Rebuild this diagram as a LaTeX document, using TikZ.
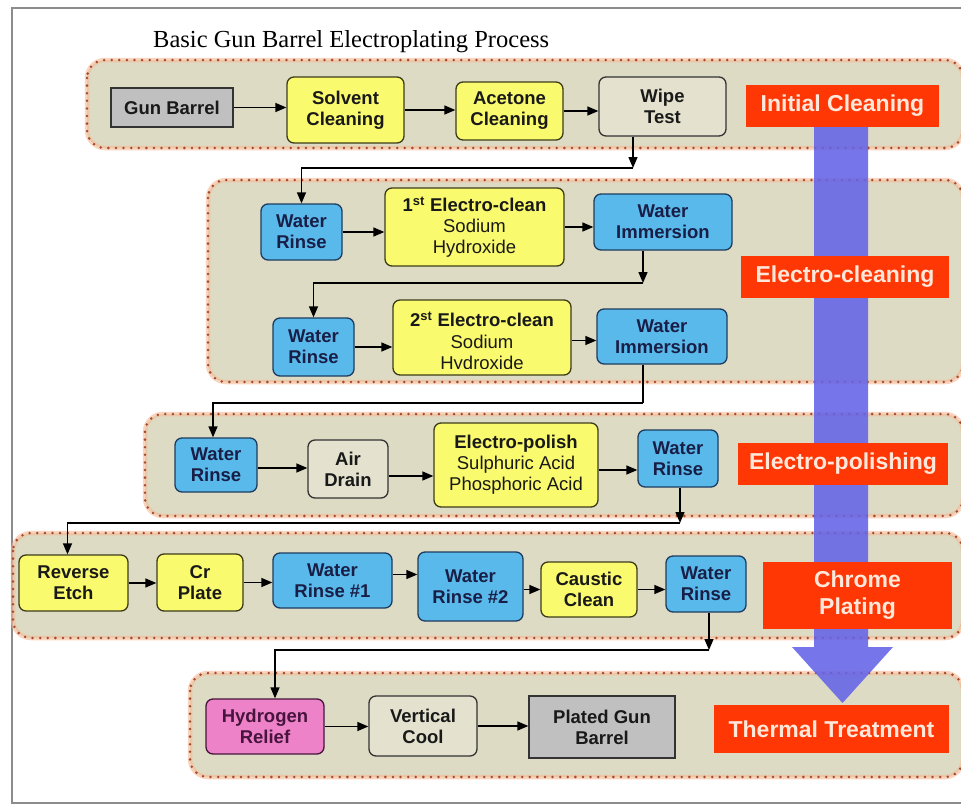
\documentclass[tikz,border=0pt]{standalone}
\usepackage{fontspec}
\setmainfont{Liberation Serif}
\newfontfamily\arialf{Liberation Sans}
\usetikzlibrary{arrows.meta}
\definecolor{grpfill}{RGB}{221,219,196}
\definecolor{grpdot}{RGB}{165,75,45}
\definecolor{grpglow}{RGB}{245,185,150}
\definecolor{yel}{RGB}{250,250,110}
\definecolor{yeldark}{RGB}{60,60,25}
\definecolor{blu}{RGB}{90,185,235}
\definecolor{bludark}{RGB}{30,60,95}
\definecolor{navy}{RGB}{25,30,70}
\definecolor{gry}{RGB}{192,192,192}
\definecolor{pnk}{RGB}{238,130,200}
\definecolor{pnktxt}{RGB}{70,20,60}
\definecolor{bge}{RGB}{228,226,206}
\definecolor{redl}{RGB}{255,55,5}
\definecolor{redtxt}{RGB}{255,232,218}
\definecolor{arrowblue}{RGB}{100,100,232}
\tikzset{
  box/.style={draw=black!80, line width=1.3pt, rounded corners=7pt, align=center, inner sep=2pt,
    font=\arialf\fontsize{18.5}{21}\selectfont\bfseries, text=black!90},
  ybox/.style={box, fill=yel, draw=yeldark},
  bbox/.style={box, fill=blu, draw=bludark, text=navy},
  gbox/.style={box, fill=gry, rounded corners=0pt},
  ebox/.style={box, fill=bge},
  pbox/.style={box, fill=pnk, draw=pnktxt, text=pnktxt},
  lab/.style={fill=redl, text=redtxt, font=\arialf\fontsize{23}{27}\selectfont\bfseries, align=center, inner sep=0pt},
  conn/.style={draw=black, line width=1.4pt, -{Triangle[length=11pt,width=9pt]}},
  plain/.style={draw=black, line width=1.4pt},
  glowline/.style={draw=grpglow, opacity=0.6, line width=4.5pt, rounded corners=18pt},
  dotline/.style={draw=grpdot, line width=2.8pt, line cap=round, dash pattern=on 0pt off 7.6pt, rounded corners=18pt}
}
\newcommand\grpbox[4]{%
  \fill[grpfill, rounded corners=18pt] (#1,#2) rectangle (#3,#4);
  \draw[glowline] (#1,#2) rectangle (#3,#4);
  \draw[dotline] (#1,#2) rectangle (#3,#4);}
\begin{document}
\begin{tikzpicture}[x=1pt, y=-1pt]
\useasboundingbox (0,0) rectangle (961,806);
\fill[white] (0,0) rectangle (961,806);
% frame
\draw[black!45, line width=1.2pt] (961,8) -- (12,8) -- (12,803) -- (961,803);
% title
\node[anchor=base west, font=\fontsize{24.5}{28}\selectfont, inner sep=0pt] (title) at (153,47) {Basic Gun Barrel Electroplating Process};
% groups
\grpbox{87}{60}{963}{148}
\grpbox{208}{180}{963}{382}
\grpbox{145}{414}{963}{516}
\grpbox{13}{533}{963}{638}
\grpbox{190}{673}{963}{777}
% big arrow
\fill[arrowblue, opacity=0.88] (814,120) -- (868,120) -- (868,647) -- (893,647) -- (842.5,703) -- (792,647) -- (814,647) -- cycle;
% labels
\node[lab, minimum width=193pt, minimum height=42pt] (lab1) at (842.5,106) {Initial Cleaning};
\node[lab, minimum width=208pt, minimum height=42pt] (lab2) at (845,277) {Electro-cleaning};
\node[lab, minimum width=210pt, minimum height=42pt] (lab3) at (843,464) {Electro-polishing};
\node[lab, minimum width=189pt, minimum height=67pt] (lab4) at (857.5,595.5) {Chrome\\Plating};
\node[lab, minimum width=235pt, minimum height=48pt] (lab5) at (831.5,729) {Thermal Treatment};
% row 1
\node[gbox, minimum width=122pt, minimum height=39pt] (gb) at (172,107.5) {Gun Barrel};
\node[ybox, minimum width=117pt, minimum height=66pt] (sol) at (345.5,110) {Solvent\\Cleaning};
\node[ybox, minimum width=107pt, minimum height=58pt] (ace) at (509.5,111) {Acetone\\Cleaning};
\node[ebox, minimum width=127pt, minimum height=59pt] (wipe) at (662.5,106.5) {Wipe\\Test};
% row 2
\node[bbox, minimum width=81pt, minimum height=56pt] (wr1) at (301.5,232) {Water\\Rinse};
\node[ybox, minimum width=179pt, minimum height=78pt] (ec1) at (474.5,227) {1\textsuperscript{st} Electro-clean\\\mdseries Sodium\\\mdseries Hydroxide};
\node[bbox, minimum width=138pt, minimum height=56pt] (wi1) at (663,222) {Water\\Immersion};
\node[bbox, minimum width=81pt, minimum height=58pt] (wr2) at (313.5,347) {Water\\Rinse};
\node[ybox, minimum width=178pt, minimum height=75pt] (ec2) at (482,337.5) {};
\begin{scope}
  \clip (393,300) rectangle (571,368);
  \node[font=\arialf\fontsize{18.5}{21.5}\selectfont\bfseries, text=black!90, align=center, inner sep=0pt] (ec2t) at (482,343) {2\textsuperscript{st} Electro-clean\\\mdseries Sodium\\\mdseries Hydroxide};
\end{scope}
\node[bbox, minimum width=130pt, minimum height=55pt] (wi2) at (662,336.5) {Water\\Immersion};
% row 3
\node[bbox, minimum width=82pt, minimum height=54pt] (wr3) at (216,465) {Water\\Rinse};
\node[ebox, minimum width=80pt, minimum height=58pt] (air) at (348,469) {Air\\Drain};
\node[ybox, minimum width=164pt, minimum height=84pt] (ep) at (516,465) {Electro-polish\\\mdseries Sulphuric Acid\\\mdseries Phosphoric Acid};
\node[bbox, minimum width=80pt, minimum height=57pt] (wr4) at (678,458.5) {Water\\Rinse};
% row 4
\node[ybox, minimum width=109pt, minimum height=56pt] (re) at (73.5,583) {Reverse\\Etch};
\node[ybox, minimum width=86pt, minimum height=57pt] (cr) at (200,582.5) {Cr\\Plate};
\node[bbox, minimum width=119pt, minimum height=55pt] (wra) at (332.5,580.5) {Water\\Rinse \#1};
\node[bbox, minimum width=105pt, minimum height=69pt] (wrb) at (470.5,586.5) {Water\\Rinse \#2};
\node[ybox, minimum width=96pt, minimum height=55pt] (cc) at (589,589.5) {Caustic\\Clean};
\node[bbox, minimum width=80pt, minimum height=56pt] (wr5) at (706,584) {Water\\Rinse};
% row 5
\node[pbox, minimum width=118pt, minimum height=55pt] (hr) at (265,726.5) {Hydrogen\\Relief};
\node[ebox, minimum width=108pt, minimum height=60pt] (vc) at (423,726) {Vertical\\Cool};
\node[gbox, minimum width=146pt, minimum height=62pt] (pgb) at (602,727) {Plated Gun\\Barrel};
% connectors row 1
\draw[conn] (gb.east) -- (gb.east -| sol.west);
\draw[conn] (sol.east) -- (sol.east -| ace.west);
\draw[conn] (ace.east) -- (ace.east -| wipe.west);
\coordinate (k1) at (633,168);
\draw[conn] (wipe.south -| k1) -- (k1);
\draw[conn] (k1) -| (wr1.north);
% row 2
\draw[conn] (wr1.east) -- (wr1.east -| ec1.west);
\draw[conn] (ec1.east) -- (ec1.east -| wi1.west);
\coordinate (k2) at (643,283);
\draw[conn] (wi1.south -| k2) -- (k2);
\draw[conn] (k2) -| (wr2.north);
\draw[conn] (wr2.east) -- (wr2.east -| ec2.west);
\draw[conn] ([yshift=-3pt]ec2.east) -- ([yshift=-3pt]ec2.east -| wi2.west);
\coordinate (k3) at (643,403);
\draw[plain] (wi2.south -| k3) -- (k3);
\draw[conn] (k3) -| ([xshift=-3pt]wr3.north);
% row 3
\draw[conn] ([yshift=-3pt]wr3.east) -- ([yshift=-3pt]wr3.east -| air.west);
\draw[conn] ([yshift=-7pt]air.east) -- ([yshift=-7pt]air.east -| ep.west);
\draw[conn] ([yshift=-5pt]ep.east) -- ([yshift=-5pt]ep.east -| wr4.west);
\coordinate (k4) at (680,523);
\draw[conn] (wr4.south -| k4) -- (k4);
\draw[conn] (k4) -| ([xshift=-6pt]re.north);
% row 4
\draw[conn] (re.east) -- (re.east -| cr.west);
\draw[conn] (cr.east) -- (cr.east -| wra.west);
\draw[conn] ([yshift=6pt]wra.east) -- ([yshift=6pt]wra.east -| wrb.west);
\draw[conn] (cc.east) -- (cc.east -| wr5.west);
\draw[conn] ([yshift=-3pt]wrb.east) -- ([yshift=-3pt]wrb.east -| cc.west);
\coordinate (k5) at (709,650);
\draw[conn] (wr5.south -| k5) -- (k5);
\draw[conn] (k5) -| ([xshift=10pt]hr.north);
% row 5
\draw[conn] (hr.east) -- (hr.east -| vc.west);
\draw[conn] (vc.east) -- (vc.east -| pgb.west);
\end{tikzpicture}
\end{document}
